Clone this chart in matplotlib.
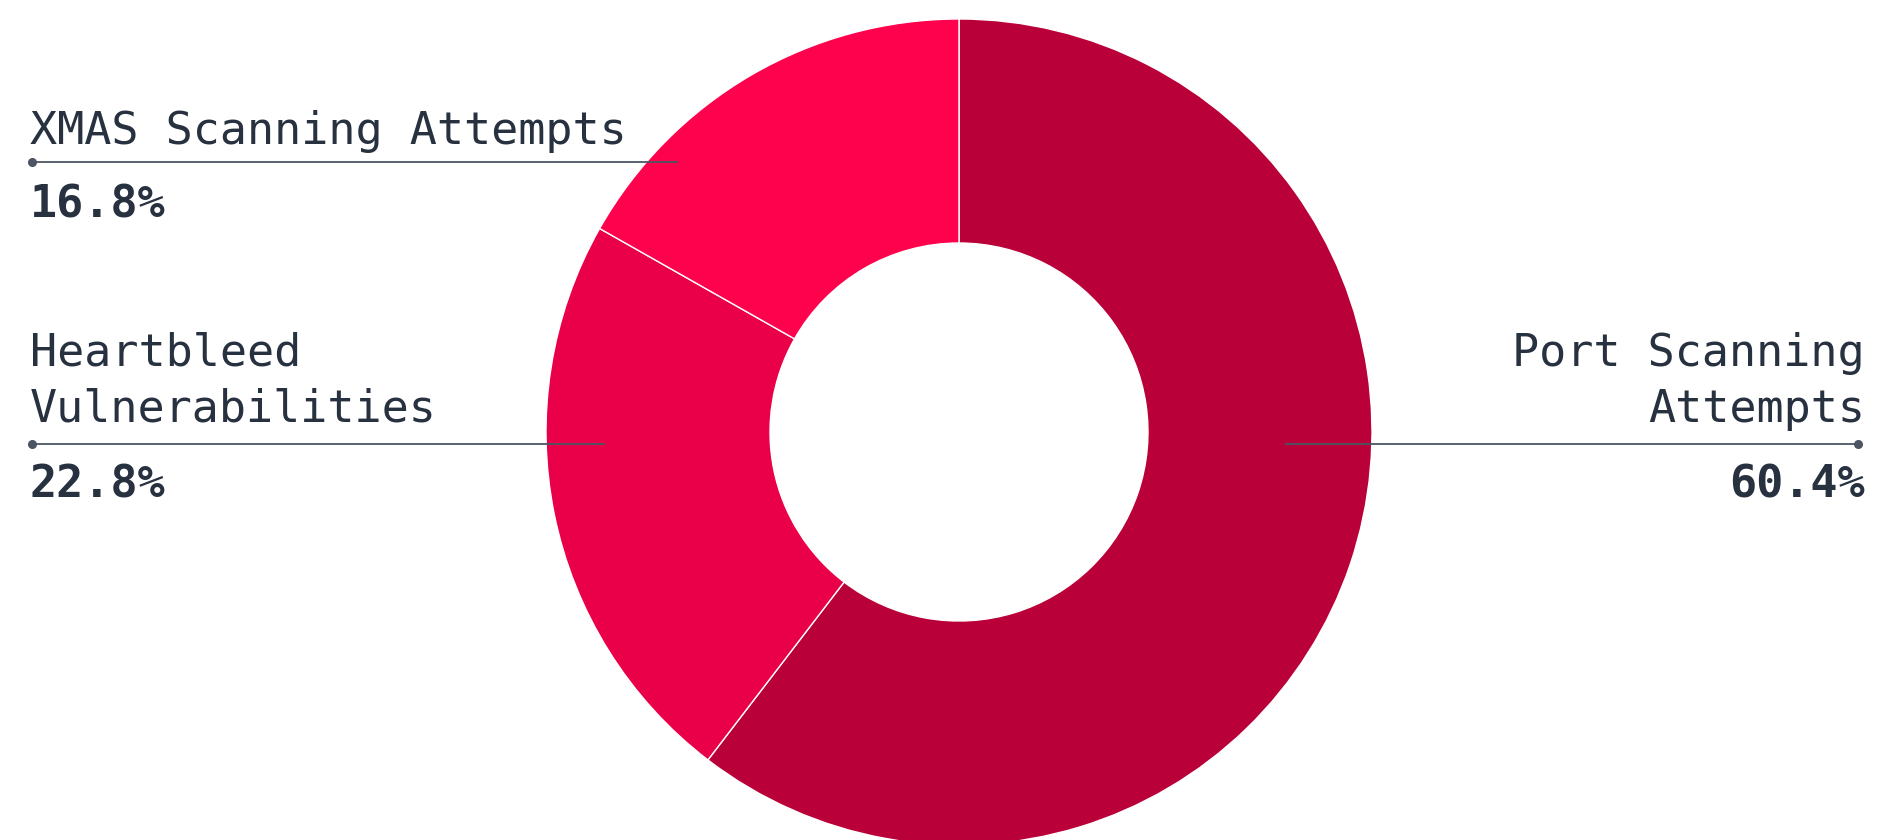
import matplotlib
matplotlib.use("Agg")
import matplotlib.pyplot as plt

# attack categories, share of events (%)
categories = ["Port Scanning\nAttempts", "Heartbleed\nVulnerabilities", "XMAS Scanning Attempts"]
shares = [60.4, 22.8, 16.8]
colors = ["#ba0039", "#e90048", "#ff024d"]

W, H = 1880, 840
fig = plt.figure(figsize=(W / 100, H / 100), dpi=100)
ax = fig.add_axes([0, 0, 1, 1])

# work in pixel coords, y measured from the top
py = lambda y: H - y
cx, cy, R, r_in = 959, 432, 413, 189

ax.pie(shares, colors=colors, startangle=90, counterclock=False,
       center=(cx, py(cy)), radius=R,
       wedgeprops=dict(width=R - r_in, edgecolor="white", linewidth=1.0))
ax.set_xlim(0, W); ax.set_ylim(0, H)
ax.set_aspect("auto"); ax.axis("off")

txt = "#27313f"
line_c = "#4b5563"
font = dict(family="DejaVu Sans Mono", fontsize=32.5, color=txt)

# (label_x, align, last_name_baseline, line_y, line_x0, line_x1, dot_x, pct_baseline)
layout = [
    (1865, "right", 422, 444, 1285, 1858, 1858, 498),
    (30, "left", 422, 444, 32, 605, 32, 498),
    (30, "left", 144, 162, 32, 678, 32, 218),
]

for name, val, (lx, ha, nb, ly, x0, x1, dx, pb) in zip(categories, shares, layout):
    lines = name.split("\n")
    # stack multi-line names so the last line sits on nb
    for i, ln in enumerate(lines):
        yb = nb - (len(lines) - 1 - i) * 56
        ax.text(lx, py(yb), ln, ha=ha, va="baseline", fontweight="light", **font)
    ax.plot([x0, x1], [py(ly), py(ly)], color=line_c, lw=1.3, solid_capstyle="butt")
    ax.plot([dx], [py(ly)], "o", ms=5.5, color=line_c)
    ax.text(lx, py(pb), f"{val:.1f}%", ha=ha, va="baseline", fontweight="bold", **font)

fig.savefig("out.png", dpi=100, facecolor="white")
